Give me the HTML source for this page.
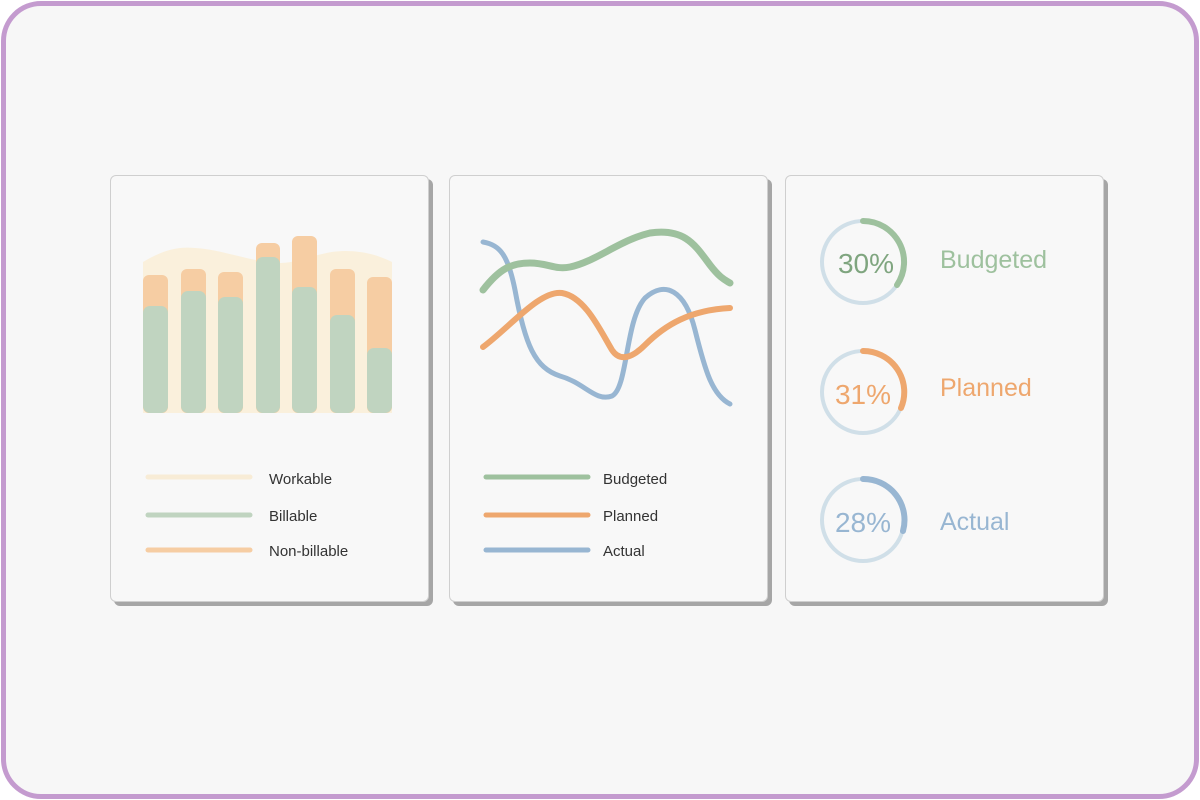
<!DOCTYPE html>
<html><head><style>
html,body{margin:0;padding:0;width:1200px;height:800px;background:#fff;overflow:hidden}
.frame{position:absolute;left:1px;top:1px;width:1188px;height:788px;border:5px solid #c49bcf;border-radius:40px;background:#f7f7f7}
.card{position:absolute;top:175px;width:317px;height:425px;background:#f8f8f8;border:1px solid #cfcfcf;border-radius:6px;box-shadow:4px 4px 0 #a6a6a6}
svg{position:absolute;left:0;top:0}
text{font-family:"Liberation Sans",sans-serif}
</style></head><body>
<div class="frame"></div>
<div class="card" style="left:110px"></div>
<div class="card" style="left:449px"></div>
<div class="card" style="left:785px"></div>
<svg width="1200" height="800" viewBox="0 0 1200 800">
<path d="M143,262 C160,252 175,246 195,248 C225,250 250,262 280,263 C300,263 320,251 345,251 C365,251 380,256 392,262 L392,413 L143,413 Z" fill="#faf0dc"/>
<g fill="#f6cda3">
<rect x="143" y="275" width="25" height="138" rx="6"/>
<rect x="181" y="269" width="25" height="144" rx="6"/>
<rect x="218" y="272" width="25" height="141" rx="6"/>
<rect x="256" y="243" width="24" height="170" rx="6"/>
<rect x="292" y="236" width="25" height="177" rx="6"/>
<rect x="330" y="269" width="25" height="144" rx="6"/>
<rect x="367" y="277" width="25" height="136" rx="6"/>
</g>
<g fill="#c0d4c0">
<rect x="143" y="306" width="25" height="107" rx="7"/>
<rect x="181" y="291" width="25" height="122" rx="7"/>
<rect x="218" y="297" width="25" height="116" rx="7"/>
<rect x="256" y="257" width="24" height="156" rx="7"/>
<rect x="292" y="287" width="25" height="126" rx="7"/>
<rect x="330" y="315" width="25" height="98" rx="7"/>
<rect x="367" y="348" width="25" height="65" rx="7"/>
</g>
<g stroke-width="5" stroke-linecap="round">
<line x1="148" y1="477" x2="250" y2="477" stroke="#f8ecd6"/>
<line x1="148" y1="515" x2="250" y2="515" stroke="#c0d4c0"/>
<line x1="148" y1="550" x2="250" y2="550" stroke="#f6cda3"/>
<line x1="486" y1="477" x2="588" y2="477" stroke="#9ec19e"/>
<line x1="486" y1="515" x2="588" y2="515" stroke="#eea76e"/>
<line x1="486" y1="550" x2="588" y2="550" stroke="#98b6d2"/>
</g>
<g font-size="15" fill="#333">
<text x="269" y="484">Workable</text>
<text x="269" y="521">Billable</text>
<text x="269" y="556">Non-billable</text>
<text x="603" y="484">Budgeted</text>
<text x="603" y="521">Planned</text>
<text x="603" y="556">Actual</text>
</g>
<g fill="none" stroke-linecap="round" stroke-width="6">
<path d="M483,242 C500,245 508,255 515,290 C525,345 535,368 560,376 C585,383 595,402 612,396 C628,388 625,320 645,298 C665,280 685,290 695,330 C705,370 712,395 730,404" stroke="#98b6d2" stroke-width="5"/>
<path d="M483,290 C500,268 512,263 530,263 C548,263 555,270 570,267 C595,262 620,240 650,233 C685,228 695,245 710,265 C720,278 725,280 730,283" stroke="#9ec19e" stroke-width="7"/>
<path d="M483,347 C510,327 540,290 562,293 C585,297 600,330 612,350 C620,362 632,358 645,345 C665,325 690,310 730,308" stroke="#eea76e"/>
</g>
<g fill="none" stroke-width="4">
<circle cx="863" cy="262" r="41" stroke="#d0dfe8"/>
<circle cx="863" cy="392" r="41" stroke="#d0dfe8"/>
<circle cx="863" cy="520" r="41" stroke="#d0dfe8"/>
</g>
<g fill="none" stroke-width="6" stroke-linecap="round">
<path d="M863,221 A41,41 0 0 1 897,285" stroke="#9ec19e"/>
<path d="M863,351 A41,41 0 0 1 901,408" stroke="#eea76e"/>
<path d="M863,479 A41,41 0 0 1 903,531" stroke="#98b6d2"/>
</g>
<g font-size="28" text-anchor="middle">
<text x="866" y="273" fill="#7fa57f">30%</text>
<text x="863" y="404" fill="#eea76e">31%</text>
<text x="863" y="532" fill="#98b6d2">28%</text>
</g>
<g font-size="25">
<text x="940" y="268" fill="#9ec19e">Budgeted</text>
<text x="940" y="396" fill="#eea76e">Planned</text>
<text x="940" y="530" fill="#98b6d2">Actual</text>
</g>
</svg>
</body></html>
